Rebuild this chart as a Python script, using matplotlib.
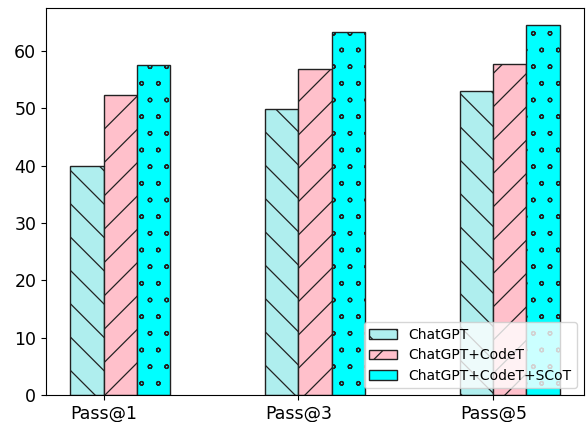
import matplotlib
matplotlib.use("Agg")
import matplotlib.pyplot as plt
import matplotlib.hatch
import numpy as np

plt.rcParams['hatch.linewidth'] = 0.9
matplotlib.hatch.SmallCircles.size = 0.11

categories = ["Pass@1", "Pass@3", "Pass@5"]
series_names = ["ChatGPT", "ChatGPT+CodeT", "ChatGPT+CodeT+SCoT"]
chatgpt = [40.0, 49.8, 53.1]
codet = [52.4, 56.9, 57.8]
scot = [57.6, 63.3, 64.5]

colors = ["paleturquoise", "pink", "cyan"]
hatches = ["\\", "/", "o"]

fig = plt.figure(figsize=(5.86, 4.22), dpi=100)
ax = fig.add_axes([46/586, 1-395/422, 538/586, 387/422])

x = np.arange(len(categories))
w = 0.17
for i, (vals, name) in enumerate(zip([chatgpt, codet, scot], series_names)):
    ax.bar(x - w/2 + i*w, vals, width=w, color=colors[i], edgecolor="#222222",
           hatch=hatches[i], label=name, linewidth=1.0)

ax.set_xticks(x)
ax.set_xticklabels(categories, fontsize=12.5)
ax.tick_params(axis='y', labelsize=12.5)
ax.set_ylim(0, 67.5)
ax.legend(loc="lower right", fontsize=10, labelspacing=0.45)
fig.savefig("out.png", dpi=100)
